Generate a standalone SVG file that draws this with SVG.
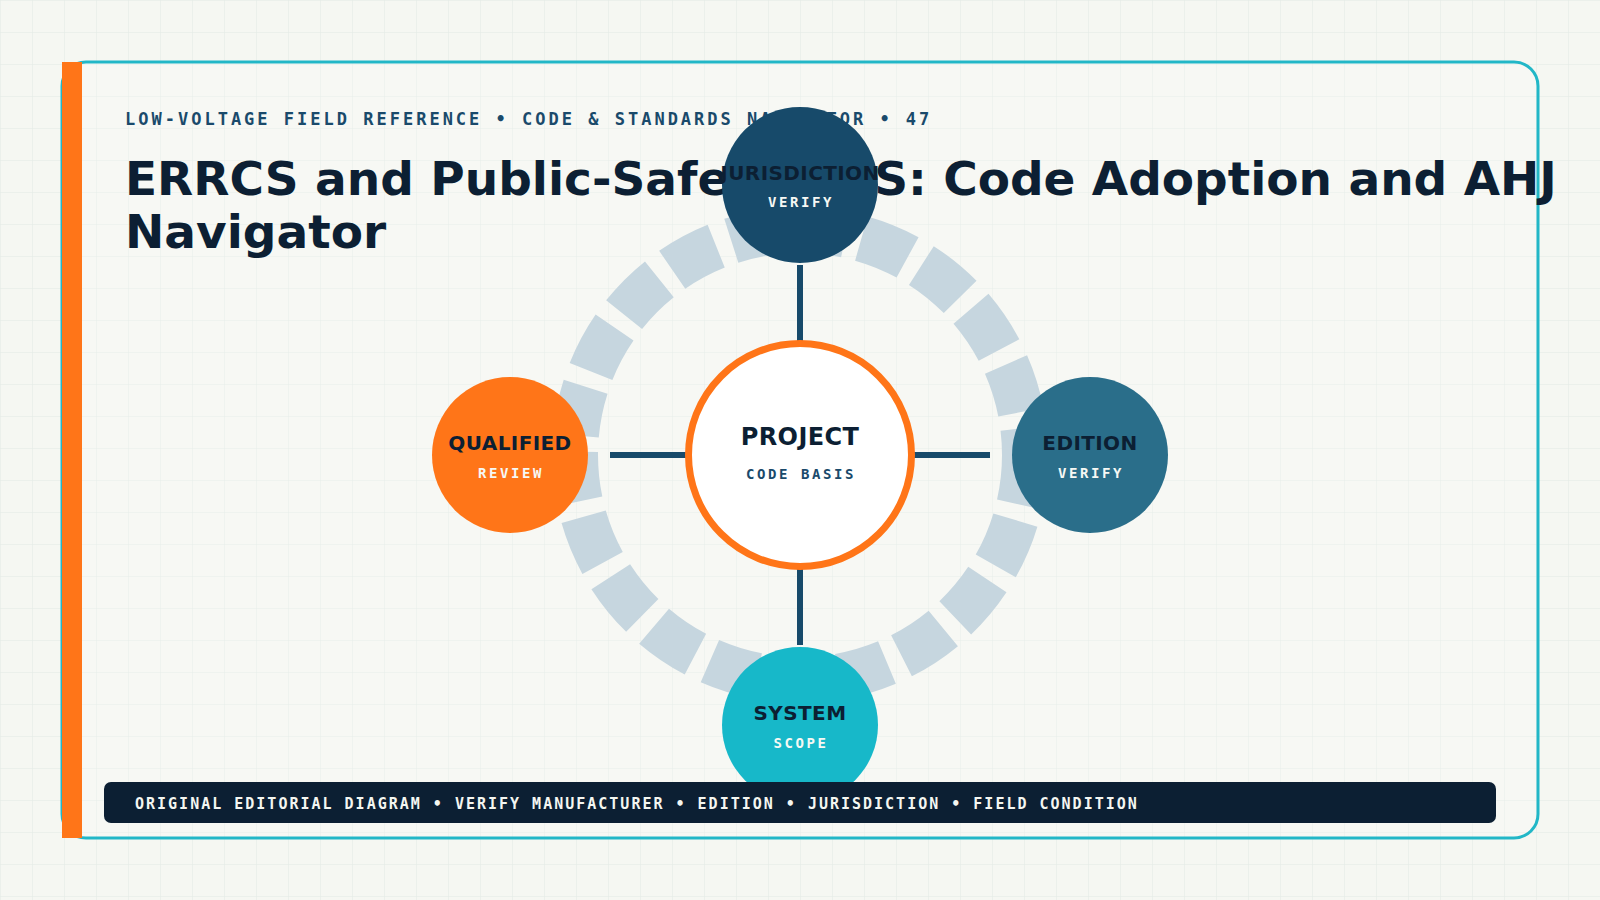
<svg xmlns="http://www.w3.org/2000/svg" width="1600" height="900" viewBox="0 0 1600 900">
  <defs>
    <pattern id="grid" width="32" height="32" patternUnits="userSpaceOnUse">
      <path d="M32 0 L0 0 0 32" fill="none" stroke="#e2e9e4" stroke-width="1"/>
    </pattern>
    <style>
      .sans { font-family: "DejaVu Sans", "Noto Sans", sans-serif; font-weight: 700; }
      .mono { font-family: "DejaVu Sans Mono", "Liberation Mono", monospace; font-weight: 700; }
      .ntitle { font-size: 20px; fill: #0c1f33; text-anchor: middle; letter-spacing: 0.4px; }
      .nsub { font-size: 14px; fill: #f6f8f4; text-anchor: middle; letter-spacing: 2.55px; }
      .conn { stroke: #174a6a; stroke-width: 6; }
    </style>
  </defs>

  <rect x="0" y="0" width="1600" height="900" fill="#f5f7f2"/>
  <rect x="0" y="0" width="1600" height="900" fill="url(#grid)"/>

  <g id="card">
    <rect x="62" y="62" width="1476" height="776" rx="24" ry="24" fill="#ffffff" fill-opacity="0.2" stroke="#22b7c7" stroke-width="3"/>
    <rect x="62" y="62" width="20" height="776" fill="#ff7518"/>
  </g>

  <g id="header">
    <text class="mono" x="125" y="125" font-size="17" fill="#1a4a6b" letter-spacing="3">LOW-VOLTAGE FIELD REFERENCE • CODE &amp; STANDARDS NAVIGATOR • 47</text>
    <text class="sans" x="125" y="195" font-size="47" fill="#0c1f33">ERRCS and Public-Safety DAS: Code Adoption and AHJ</text>
    <text class="sans" x="125" y="248" font-size="47" fill="#0c1f33">Navigator</text>
  </g>

  <g id="ring">
    <circle cx="800" cy="455" r="225" fill="none" stroke="#c6d6df" stroke-width="46" stroke-dasharray="50 16"/>
  </g>

  <g id="connectors">
    <line class="conn" x1="800" y1="265" x2="800" y2="341"/>
    <line class="conn" x1="800" y1="569" x2="800" y2="645"/>
    <line class="conn" x1="610" y1="455" x2="688" y2="455"/>
    <line class="conn" x1="912" y1="455" x2="990" y2="455"/>
  </g>

  <g id="node-project">
    <circle cx="800" cy="455" r="111.5" fill="#ffffff" stroke="#ff7518" stroke-width="7"/>
    <text class="sans" x="800" y="445" font-size="24" fill="#0c1f33" text-anchor="middle" letter-spacing="0.4">PROJECT</text>
    <text class="mono" x="801" y="479" font-size="14" fill="#1a4a6b" text-anchor="middle" letter-spacing="2.55">CODE BASIS</text>
  </g>

  <g id="node-jurisdiction">
    <circle cx="800" cy="185" r="78" fill="#174a6a"/>
    <text class="sans ntitle" x="800" y="180">JURISDICTION</text>
    <text class="mono nsub" x="801" y="207">VERIFY</text>
  </g>

  <g id="node-qualified">
    <circle cx="510" cy="455" r="78" fill="#ff7518"/>
    <text class="sans ntitle" x="510" y="450">QUALIFIED</text>
    <text class="mono nsub" x="511" y="478">REVIEW</text>
  </g>

  <g id="node-edition">
    <circle cx="1090" cy="455" r="78" fill="#2a6e8a"/>
    <text class="sans ntitle" x="1090" y="450">EDITION</text>
    <text class="mono nsub" x="1091" y="478">VERIFY</text>
  </g>

  <g id="node-system">
    <circle cx="800" cy="725" r="78" fill="#17b8c9"/>
    <text class="sans ntitle" x="800" y="720">SYSTEM</text>
    <text class="mono nsub" x="801" y="748">SCOPE</text>
  </g>

  <g id="footer">
    <rect x="104" y="782" width="1392" height="41" rx="7" ry="7" fill="#0c1f33"/>
    <text class="mono" x="135" y="809" font-size="15" fill="#f4f6f1" letter-spacing="2.0">ORIGINAL EDITORIAL DIAGRAM • VERIFY MANUFACTURER • EDITION • JURISDICTION • FIELD CONDITION</text>
  </g>
</svg>
